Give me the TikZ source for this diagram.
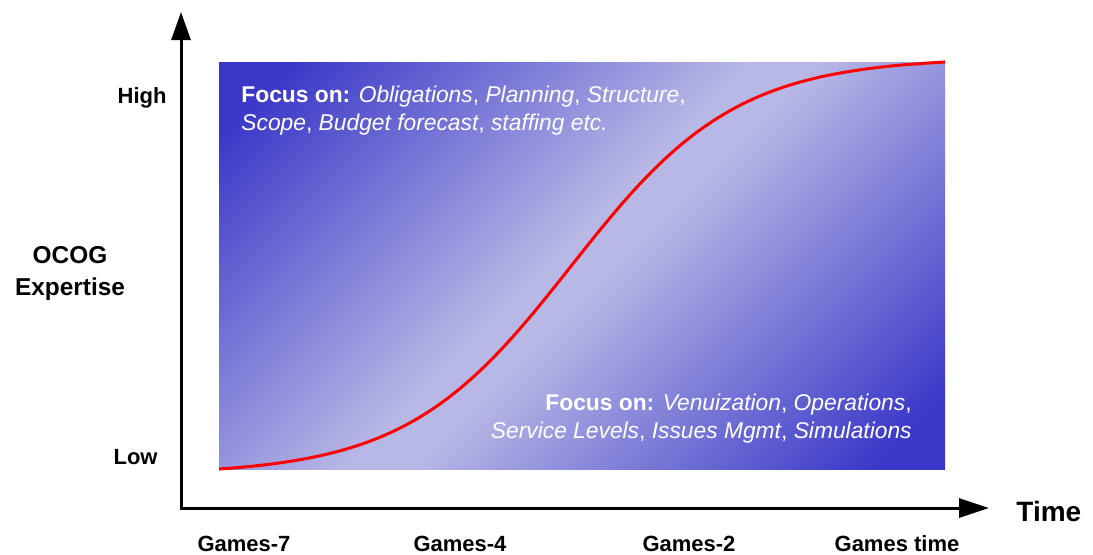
\documentclass[tikz,border=0pt]{standalone}
\usepackage{fontspec}
\setmainfont{Liberation Sans}
\usetikzlibrary{arrows.meta,positioning}
\definecolor{ocogdark}{RGB}{58,56,200}
\definecolor{ocoglight}{RGB}{184,184,230}
\pgfdeclareverticalshading{ocogband}{100bp}{color(0bp)=(ocogdark); color(19bp)=(ocogdark);
  color(48bp)=(ocoglight); color(52bp)=(ocoglight); color(81bp)=(ocogdark); color(100bp)=(ocogdark)}

\begin{document}
\begin{tikzpicture}
        [x=0.5pt, y=-0.5pt,
          axis/.style={line width=1.5pt, {Triangle[width=9.5pt,length=14pt]}-{Triangle[width=9.5pt,length=15pt]}},
          level/.style={font=\fontsize{11}{15.5}\selectfont\bfseries, inner sep=0pt},
          tick/.style={level, anchor=base},
          focus/.style={font=\fontsize{11.4}{14}\selectfont, text=white, inner sep=0pt},
          scurve/.style={draw=red, line width=1.5pt}]
        \useasboundingbox (0,0) rectangle (1093,554);
        \shade[shading=ocogband, shading angle=45] (219,62) rectangle (945,469);
        \draw[scurve] plot[domain=219:945, samples=100, smooth]
          (\x, {469-407*(1/(1+exp(-(\x-571)/82.6))-0.0139)/0.9754});
        % axes
        \coordinate (ytip) at (181,12);
        \coordinate (xtip) at (989,508);
        \draw[axis] (ytip) |- (xtip);
        \node[level, anchor=east] (high) at (167,98) {High};
        \node[level, anchor=east] (low) at (158,457) {Low};
        \node[level, font=\fontsize{12.2}{16}\selectfont\bfseries, align=center] (expertise) at (70,274) {OCOG\\Expertise};
        \node[tick] (g7) at (244,551) {Games-7};
        \node[tick] (g4) at (460,551) {Games-4};
        \node[tick] (g2) at (689,551) {Games-2};
        \node[tick] (g0) at (897,551) {Games time};
        \node[level, font=\fontsize{14}{16}\selectfont\bfseries, anchor=west] (time) at (1016,511) {Time};
        % focus texts
        \node[focus, anchor=north west, align=left] (plan) at (241,86)
          {\textbf{Focus on:} \textit{Obligations}, \textit{Planning}, \textit{Structure},\\
           \textit{Scope}, \textit{Budget forecast}, \textit{staffing etc.}};
        \node[focus, anchor=north east, align=right] (ops) at (912,394)
          {\textbf{Focus on:} \textit{Venuization}, \textit{Operations},\\
           \textit{Service Levels}, \textit{Issues Mgmt}, \textit{Simulations}};
\end{tikzpicture}
\end{document}
